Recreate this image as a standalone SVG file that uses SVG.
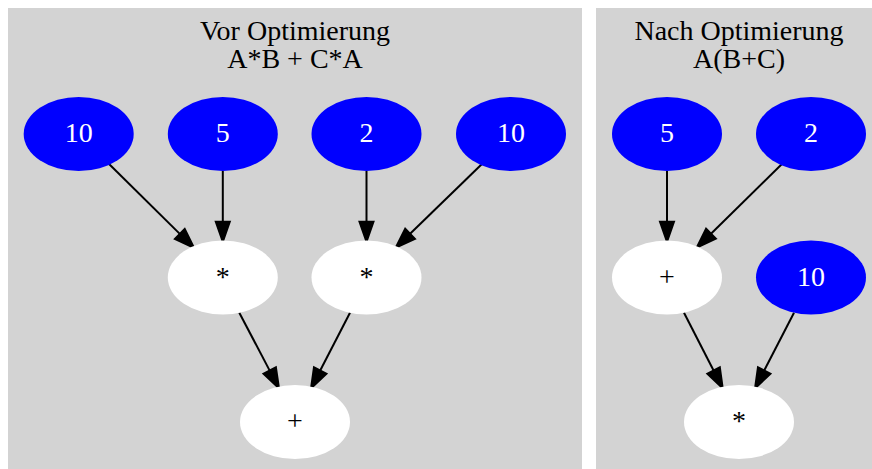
<svg xmlns="http://www.w3.org/2000/svg" width="872" height="469" viewBox="0 0 872 469">
<defs>
<style>
.cl{fill:#d3d3d3;stroke:none}
.title{font-family:"Liberation Serif","Times New Roman",serif;font-size:28px;fill:#000;text-anchor:middle}
.num ellipse{fill:#0000ff;stroke:none}
.num text{font-family:"Liberation Serif","Times New Roman",serif;font-size:28px;fill:#fff;text-anchor:middle}
.op ellipse{fill:#fff;stroke:none}
.op text{font-family:"Liberation Serif","Times New Roman",serif;font-size:28px;fill:#000;text-anchor:middle}
.e{stroke:#000;stroke-width:2;fill:none;marker-end:url(#ah)}
</style>
<marker id="ah" markerUnits="userSpaceOnUse" viewBox="0 -9 22 18" refX="0" refY="0" markerWidth="22" markerHeight="18" orient="auto" overflow="visible">
<path d="M0,-7 L20,0 L0,7 z" fill="#000" stroke="#000" stroke-width="2"/>
</marker>
</defs>
<g id="cluster_vor">
<rect class="cl" x="8" y="8" width="574" height="461"/>
<text class="title" x="295" y="40">Vor Optimierung</text>
<text class="title" x="295" y="68">A*B + C*A</text>
</g>
<g id="cluster_nach">
<rect class="cl" x="596" y="8" width="286" height="461"/>
<text class="title" x="739" y="40">Nach Optimierung</text>
<text class="title" x="739" y="68">A(B+C)</text>
</g>
<g id="connectors">
<line class="e" x1="108.3" y1="163.3" x2="179.8" y2="233.9"/>
<line class="e" x1="222.8" y1="171" x2="222.8" y2="221.7"/>
<line class="e" x1="366.5" y1="171" x2="366.5" y2="221.7"/>
<line class="e" x1="481.7" y1="164.3" x2="410.1" y2="233.8"/>
<line class="e" x1="239.3" y1="312.7" x2="269.7" y2="370.6"/>
<line class="e" x1="350" y1="312.7" x2="320.2" y2="370.5"/>
<line class="e" x1="667" y1="171" x2="667" y2="221.7"/>
<line class="e" x1="781.7" y1="164.3" x2="711" y2="233.7"/>
<line class="e" x1="684" y1="312.7" x2="713.6" y2="370.5"/>
<line class="e" x1="794" y1="312.7" x2="764.2" y2="370.5"/>
</g>
<g id="n_a10" class="num"><ellipse cx="78.7" cy="134" rx="55" ry="37"/><text x="78.7" y="142">10</text></g>
<g id="n_b5" class="num"><ellipse cx="222.8" cy="134" rx="55" ry="37"/><text x="222.8" y="142">5</text></g>
<g id="n_c2" class="num"><ellipse cx="366.5" cy="134" rx="55" ry="37"/><text x="366.5" y="142">2</text></g>
<g id="n_a10b" class="num"><ellipse cx="511" cy="134" rx="55" ry="37"/><text x="511" y="142">10</text></g>
<g id="n_mul1" class="op"><ellipse cx="222.8" cy="277.5" rx="55" ry="37"/><text x="222.8" y="285.5">*</text></g>
<g id="n_mul2" class="op"><ellipse cx="366.5" cy="277.5" rx="55" ry="37"/><text x="366.5" y="285.5">*</text></g>
<g id="n_add1" class="op"><ellipse cx="295" cy="422" rx="55" ry="37"/><text x="295" y="430">+</text></g>
<g id="n_b5r" class="num"><ellipse cx="667" cy="134" rx="55" ry="37"/><text x="667" y="142">5</text></g>
<g id="n_c2r" class="num"><ellipse cx="811" cy="134" rx="55" ry="37"/><text x="811" y="142">2</text></g>
<g id="n_add2" class="op"><ellipse cx="667" cy="277.5" rx="55" ry="37"/><text x="667" y="285.5">+</text></g>
<g id="n_a10r" class="num"><ellipse cx="811" cy="277.5" rx="55" ry="37"/><text x="811" y="285.5">10</text></g>
<g id="n_mul3" class="op"><ellipse cx="739" cy="422" rx="55" ry="37"/><text x="739" y="430">*</text></g>
</svg>
